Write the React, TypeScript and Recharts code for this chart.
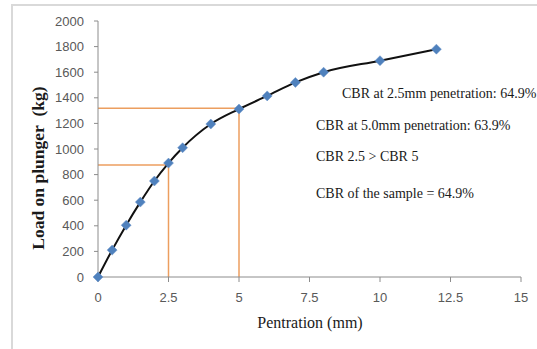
import React from "react";
import { ComposedChart, Line, XAxis, YAxis, ReferenceLine } from "recharts";

const penetration = [0, 0.5, 1, 1.5, 2, 2.5, 3, 4, 5, 6, 7, 8, 10, 12];
const load = [0, 210, 405, 585, 750, 890, 1010, 1195, 1312, 1415, 1520, 1600, 1690, 1780];
const xTicks = [0, 2.5, 5, 7.5, 10, 12.5, 15];
const yTicks = [0, 200, 400, 600, 800, 1000, 1200, 1400, 1600, 1800, 2000];
const guideX = [2.5, 5];
const guideY = [875, 1318];
const notes = [
  "CBR at 2.5mm penetration: 64.9%",
  "CBR at 5.0mm penetration: 63.9%",
  "CBR 2.5 > CBR 5",
  "CBR of the sample = 64.9%",
];

const data = penetration.map((p, i) => ({ p, load: load[i] }));

const Diamond = (props: any) => {
  const { cx, cy, index } = props;
  if (cx == null || cy == null) return <g key={`d-${index}`} />;
  const r = 5;
  return (
    <polygon
      key={`d-${index}`}
      points={`${cx},${cy - r} ${cx + r},${cy} ${cx},${cy + r} ${cx - r},${cy}`}
      fill="#4F81BD"
      stroke="#6a93c8"
      strokeWidth={0.5}
    />
  );
};

const notePos = [
  { left: 342, top: 85 },
  { left: 316, top: 117 },
  { left: 316, top: 148 },
  { left: 316, top: 185 },
];

export default function App() {
  const orange = "#EC9E5F";
  return (
    <div style={{ position: "absolute", left: 0, top: 0, width: 537, height: 349, background: "#fff", overflow: "hidden" }}>
      <div
        style={{
          position: "absolute",
          left: 11,
          top: 4,
          width: 524,
          height: 343,
          borderLeft: "2px solid #d9d9d9",
          borderTop: "2px solid #d9d9d9",
        }}
      />
      <div style={{ position: "absolute", left: 0, top: 0 }}>
        <ComposedChart
          width={537}
          height={349}
          data={data}
          margin={{ top: 21, right: 16, bottom: 42, left: 38 }}
        >
          <XAxis
            dataKey="p"
            type="number"
            domain={[0, 15]}
            ticks={xTicks}
            height={30}
            tickSize={5}
            tickMargin={11}
            stroke="#8c8c8c"
            tick={{ fill: "#595959", fontSize: 13, fontFamily: "Liberation Sans" }}
            tickFormatter={(v: number) => String(v)}
          />
          <YAxis
            type="number"
            domain={[0, 2000]}
            ticks={yTicks}
            width={60}
            tickSize={4}
            tickMargin={10}
            stroke="#8c8c8c"
            tick={{ fill: "#595959", fontSize: 13, fontFamily: "Liberation Sans" }}
          />
          <ReferenceLine
            segment={[{ x: 0, y: guideY[0] }, { x: guideX[0], y: guideY[0] }]}
            stroke={orange}
            strokeWidth={1.5}
          />
          <ReferenceLine
            segment={[{ x: guideX[0], y: guideY[0] }, { x: guideX[0], y: 0 }]}
            stroke={orange}
            strokeWidth={1.5}
          />
          <ReferenceLine
            segment={[{ x: 0, y: guideY[1] }, { x: guideX[1], y: guideY[1] }]}
            stroke={orange}
            strokeWidth={1.5}
          />
          <ReferenceLine
            segment={[{ x: guideX[1], y: guideY[1] }, { x: guideX[1], y: 0 }]}
            stroke={orange}
            strokeWidth={1.5}
          />
          <Line
            dataKey="load"
            type="monotone"
            stroke="#111"
            strokeWidth={2}
            dot={Diamond}
            activeDot={false}
            isAnimationActive={false}
          />
        </ComposedChart>
      </div>
      {notes.map((n, i) => (
        <div
          key={n}
          style={{
            position: "absolute",
            left: notePos[i].left,
            top: notePos[i].top,
            fontFamily: "Liberation Serif",
            fontSize: 14,
            color: "#1a1a1a",
            whiteSpace: "nowrap",
            lineHeight: "18px",
          }}
        >
          {n}
        </div>
      ))}
      <div
        style={{
          position: "absolute",
          left: 230,
          top: 313,
          width: 160,
          textAlign: "center",
          fontFamily: "Liberation Serif",
          fontSize: 16,
          color: "#1a1a1a",
          whiteSpace: "nowrap",
          lineHeight: "20px",
        }}
      >
        Pentration (mm)
      </div>
      <div
        style={{
          position: "absolute",
          left: 38,
          top: 168,
          transform: "translate(-50%, -50%) rotate(-90deg)",
          fontFamily: "Liberation Serif",
          fontWeight: "bold",
          fontSize: 17.5,
          color: "#1a1a1a",
          whiteSpace: "nowrap",
          lineHeight: "20px",
        }}
      >
        Load on plunger&nbsp; (kg)
      </div>
    </div>
  );
}
